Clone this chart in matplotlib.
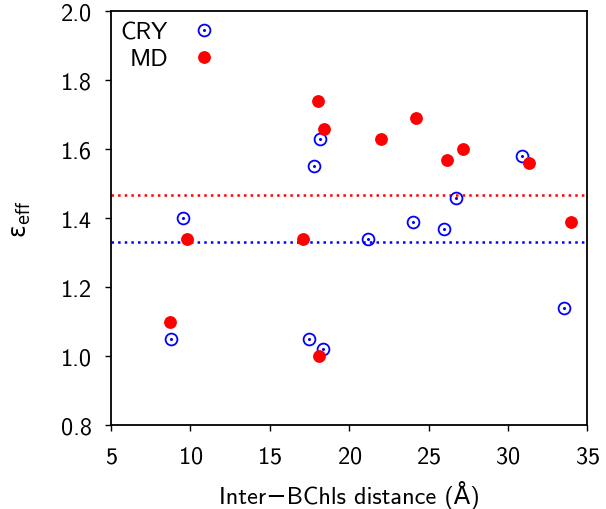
import numpy as np
import matplotlib
matplotlib.use('Agg')
import matplotlib.pyplot as plt

plt.rcParams['font.family'] = ['cmss10', 'DejaVu Sans']
plt.rcParams['axes.formatter.use_mathtext'] = True

# Crystal structure values
cry_dist = [18.19, 17.81, 30.90, 26.72, 24.01, 26.00, 21.21, 33.53, 9.52, 8.80, 17.50, 18.34]
cry_eps = [1.63, 1.55, 1.58, 1.46, 1.39, 1.37, 1.34, 1.14, 1.40, 1.05, 1.05, 1.02]

# MD values
md_dist = [18.06, 18.40, 24.24, 21.99, 27.14, 26.17, 31.32, 33.97, 9.81, 17.10, 8.72, 18.09]
md_eps = [1.74, 1.66, 1.69, 1.63, 1.60, 1.57, 1.56, 1.39, 1.34, 1.34, 1.10, 1.00]

fig = plt.figure(figsize=(6.06, 5.10), dpi=100)
ax = fig.add_axes([0.1832, 0.1647, 0.786, 0.811])

# mean lines
ax.axhline(np.mean(md_eps), color='red', linestyle=':', linewidth=1.8)
ax.axhline(np.mean(cry_eps), color='blue', linestyle=':', linewidth=1.8)

c1, = ax.plot(cry_dist, cry_eps, 'o', mfc='none', mec='blue', ms=8.5, mew=1.3, linestyle='none')
c2, = ax.plot(cry_dist, cry_eps, 'o', color='blue', ms=1.2, linestyle='none')
m1, = ax.plot(md_dist, md_eps, 'o', color='red', ms=8.2, linestyle='none')

ax.legend([(c1, c2), m1], ['CRY', 'MD'], loc='upper left', frameon=False,
          markerfirst=False, fontsize=17.5, handletextpad=0.9, labelspacing=0.22,
          borderaxespad=0.1, borderpad=0.3, handlelength=1.2)

ax.set_xlim(5, 35)
ax.set_ylim(0.8, 2.0)
ax.set_xticks([5, 10, 15, 20, 25, 30, 35])
ax.set_yticks([0.8, 1.0, 1.2, 1.4, 1.6, 1.8, 2.0])
ax.set_yticklabels(['0.8', '1.0', '1.2', '1.4', '1.6', '1.8', '2.0'])
ax.tick_params(direction='out', length=4, width=1.0, labelsize=17.5)
ax.tick_params(axis='x', pad=11)
ax.tick_params(axis='y', pad=10)

for s in ax.spines.values():
    s.set_linewidth(1.3)

ax.set_xlabel('Inter\u2212BChls distance (\u00c5)', fontsize=17.5, labelpad=9)
ax.set_ylabel('\u03b5$_{\\mathregular{eff}}$', fontsize=17, labelpad=20,
              fontfamily=['DejaVu Sans'])

fig.savefig('out.png', dpi=100)
